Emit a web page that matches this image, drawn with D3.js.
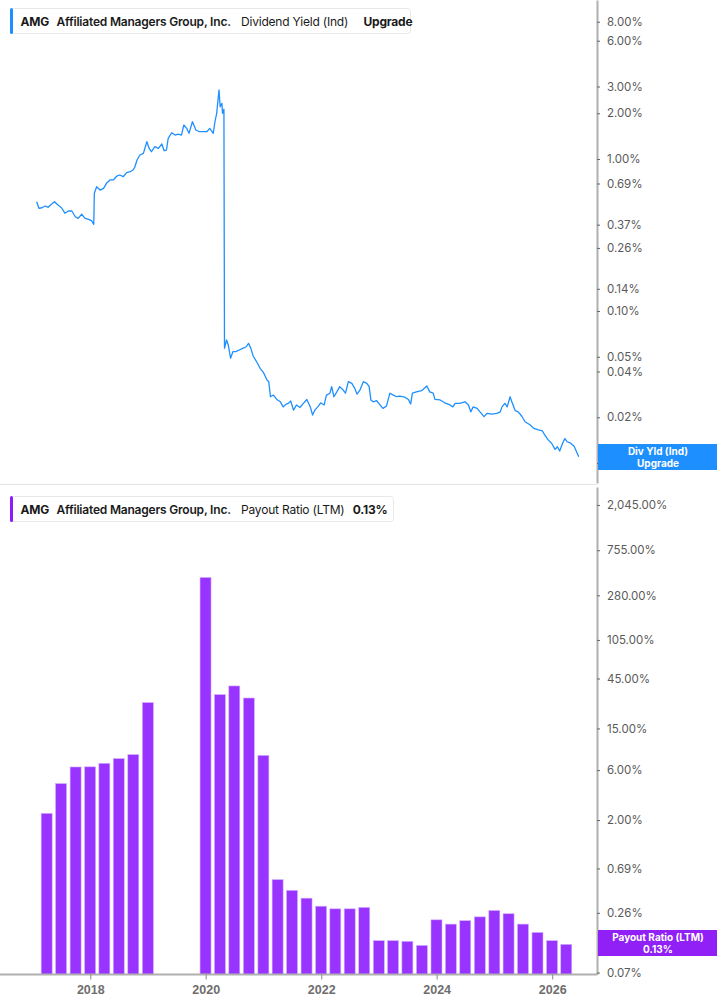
<!DOCTYPE html>
<html>
<head>
<meta charset="utf-8">
<script src="https://cdn.jsdelivr.net/npm/d3@7"></script>
<style>
  body { margin: 0; background: #fff; }
  svg { display: block; font-family: Inter, "Noto Sans", sans-serif; }
</style>
</head>
<body>
<svg id="chart" width="717" height="1005"></svg>
<script>
// ---- data ----
// dividend yield (%), decimal year -> value
const divYears = [2017.07,2017.11,2017.16,2017.22,2017.27,2017.33,2017.38,2017.44,2017.50,2017.56,2017.62,2017.68,2017.74,2017.79,2017.85,2017.91,2017.97,2018.02,2018.06,2018.07,
  2018.11,2018.17,2018.23,2018.28,2018.34,2018.40,2018.46,2018.51,2018.57,2018.63,2018.69,2018.74,2018.77,2018.81,2018.86,2018.92,2018.98,2019.02,2019.06,2019.12,
  2019.18,2019.24,2019.28,2019.32,2019.35,2019.41,2019.47,2019.52,2019.58,2019.62,2019.67,2019.71,2019.77,2019.83,2019.89,2019.96,2020.02,2020.07,2020.13,2020.16,
  2020.19,2020.23,2020.25,2020.28,2020.29,2020.315,2020.325,2020.36,2020.39,2020.43,2020.47,2020.52,2020.58,2020.64,2020.70,2020.74,2020.78,2020.82,2020.88,2020.94,
  2021.00,2021.06,2021.09,2021.12,2021.17,2021.23,2021.29,2021.34,2021.39,2021.43,2021.47,2021.52,2021.57,2021.63,2021.69,2021.75,2021.81,2021.85,2021.89,2021.95,
  2021.99,2022.05,2022.09,2022.15,2022.18,2022.22,2022.27,2022.32,2022.38,2022.42,2022.47,2022.53,2022.58,2022.62,2022.67,2022.73,2022.79,2022.83,2022.86,2022.90,
  2022.96,2023.02,2023.07,2023.13,2023.19,2023.25,2023.31,2023.36,2023.45,2023.51,2023.55,2023.58,2023.65,2023.74,2023.83,2023.88,2023.94,2023.97,2024.06,2024.14,
  2024.23,2024.28,2024.32,2024.40,2024.49,2024.55,2024.59,2024.63,2024.70,2024.75,2024.82,2024.87,2024.95,2025.04,2025.10,2025.13,2025.18,2025.22,2025.27,2025.31,
  2025.36,2025.41,2025.47,2025.53,2025.62,2025.68,2025.76,2025.83,2025.87,2025.93,2025.99,2026.05,2026.09,2026.13,2026.18,2026.22,2026.26,2026.32,2026.38,2026.42,2026.46];
const divYield = [0.524,0.474,0.478,0.491,0.481,0.506,0.524,0.498,0.478,0.440,0.455,0.455,0.417,0.407,0.433,0.407,0.401,0.393,0.372,0.595,
  0.657,0.625,0.641,0.692,0.728,0.728,0.773,0.785,0.765,0.813,0.825,0.847,0.882,0.985,1.063,1.090,1.300,1.175,1.117,1.205,
  1.175,1.255,1.134,1.146,1.368,1.489,1.438,1.460,1.438,1.673,1.592,1.476,1.759,1.552,1.512,1.512,1.512,1.592,1.476,1.759,
  1.998,2.844,2.208,2.324,2.000,2.123,0.0568,0.0645,0.0598,0.0489,0.0540,0.0540,0.0554,0.0568,0.0582,0.0613,0.0568,0.0506,0.0464,0.0420,
  0.0393,0.0352,0.0343,0.0273,0.0280,0.0262,0.0253,0.0234,0.0244,0.0247,0.0256,0.0223,0.0241,0.0232,0.0247,0.0262,0.0234,0.0207,0.0223,0.0237,
  0.0249,0.0241,0.0280,0.0288,0.0318,0.0273,0.0294,0.0318,0.0302,0.0288,0.0343,0.0334,0.0310,0.0284,0.0302,0.0343,0.0334,0.0318,0.0260,0.0253,
  0.0257,0.0241,0.0229,0.0237,0.0288,0.0280,0.0273,0.0276,0.0271,0.0262,0.0245,0.0288,0.0294,0.0299,0.0321,0.0294,0.0288,0.0262,0.0260,0.0249,
  0.0241,0.0234,0.0247,0.0247,0.0253,0.0241,0.0217,0.0234,0.0229,0.0217,0.0202,0.0212,0.0210,0.0212,0.0217,0.0234,0.0247,0.0234,0.0273,0.0247,
  0.0221,0.0217,0.0204,0.0187,0.0178,0.0169,0.0165,0.0163,0.0153,0.0142,0.0135,0.0123,0.0128,0.0120,0.0135,0.0145,0.0138,0.0135,0.0129,0.0119,0.0110];

// payout ratio (LTM, %) by quarter end
const payoutDates = ["2017-03-31","2017-06-30","2017-09-30","2017-12-31","2018-03-31","2018-06-30","2018-09-30","2018-12-31",
  "2019-12-31","2020-03-31","2020-06-30","2020-09-30","2020-12-31","2021-03-31","2021-06-30","2021-09-30","2021-12-31",
  "2022-03-31","2022-06-30","2022-09-30","2022-12-31","2023-03-31","2023-06-30","2023-09-30","2023-12-31",
  "2024-03-31","2024-06-30","2024-09-30","2024-12-31","2025-03-31","2025-06-30","2025-09-30","2025-12-31","2026-03-31"];
const payoutRatio = [2.32,4.46,6.43,6.45,6.97,7.73,8.44,26.5,
  415,31.6,38.2,29.3,8.3,0.54,0.426,0.359,0.301,
  0.284,0.284,0.293,0.141,0.141,0.139,0.127,0.223,
  0.203,0.219,0.238,0.274,0.255,0.203,0.169,0.141,0.13];

const yieldTicks = [8, 6, 3, 2, 1, 0.69, 0.37, 0.26, 0.14, 0.10, 0.05, 0.04, 0.02, 0.01];
const payoutTicks = [2045, 755, 280, 105, 45, 15, 6, 2, 0.69, 0.26, 0.07];
const yearTicks = [2018, 2020, 2022, 2024, 2026];

// ---- layout ----
const svg = d3.select("#chart");
const plotRight = 597;
const top1 = 0, bot1 = 483;
const top2 = 487, bot2 = 974.5;
const blue = "#1e8fff", purple = "#9933ff";

function yearToDate(y) {
  const yr = Math.floor(y);
  const a = Date.UTC(yr, 0, 1), b = Date.UTC(yr + 1, 0, 1);
  return new Date(a + (y - yr) * (b - a));
}

const x = d3.scaleUtc()
    .domain([new Date(Date.UTC(2018,0,1)), new Date(Date.UTC(2026,0,1))])
    .range([90.3, 552.2]);

const y1 = d3.scaleLog().domain([0.00739, 11.12]).range([bot1, top1]);
const y2 = d3.scaleLog().domain([0.067, 3034]).range([bot2, top2]);

svg.append("rect").attr("width", 717).attr("height", 1005).attr("fill", "#fff");

// panel separator
svg.append("line")
    .attr("x1", 0).attr("x2", plotRight)
    .attr("y1", 484.5).attr("y2", 484.5)
    .attr("stroke", "#e3e3e3").attr("stroke-width", 1);

// ---- top panel: dividend yield line ----
svg.append("clipPath").attr("id", "clip1")
  .append("rect").attr("x", 0).attr("y", top1).attr("width", plotRight).attr("height", bot1 - top1);

const line = d3.line()
    .x(function(d, i) { return x(yearToDate(divYears[i])); })
    .y(function(d) { return y1(d); });

svg.append("path")
    .datum(divYield)
    .attr("clip-path", "url(#clip1)")
    .attr("fill", "none")
    .attr("stroke", blue)
    .attr("stroke-width", 1.3)
    .attr("stroke-linejoin", "round")
    .attr("d", line);

// ---- bottom panel: payout ratio bars ----
const parse = d3.utcParse("%Y-%m-%d");
const barW = 11;
svg.append("g")
  .selectAll("rect")
  .data(payoutRatio)
  .enter().append("rect")
    .attr("x", function(d, i) { return x(parse(payoutDates[i])) - barW / 2; })
    .attr("y", function(d) { return y2(d); })
    .attr("width", barW)
    .attr("height", function(d) { return bot2 - y2(d); })
    .attr("fill", purple)
    .attr("stroke", "#d2b0ff")
    .attr("stroke-width", 0.6);

// ---- axes ----
function styleAxis(g) {
  g.select(".domain").attr("stroke", "#b0b0b0").attr("stroke-width", 2);
  g.selectAll(".tick line").attr("stroke", "#666");
  g.selectAll(".tick text").attr("fill", "#5a5a5a").attr("font-size", "11.5px")
    .attr("font-family", "Inter, sans-serif");
}

const fmt1 = function(d) { return d3.format(".2f")(d) + "%"; };
const fmt2 = function(d) { return d3.format(",.2f")(d) + "%"; };

const yAxis1 = svg.append("g")
    .attr("transform", "translate(" + plotRight + ",0)")
    .call(d3.axisRight(y1).tickValues(yieldTicks).tickFormat(fmt1).tickSize(3).tickPadding(7).tickSizeOuter(0));
styleAxis(yAxis1);

const yAxis2 = svg.append("g")
    .attr("transform", "translate(" + plotRight + ",0)")
    .call(d3.axisRight(y2).tickValues(payoutTicks).tickFormat(fmt2).tickSize(3).tickPadding(7).tickSizeOuter(0));
styleAxis(yAxis2);

const xAxis = svg.append("g")
    .attr("transform", "translate(0," + bot2 + ")")
    .call(d3.axisBottom(x)
      .tickValues(yearTicks.map(function(y) { return new Date(Date.UTC(y,0,1)); }))
      .tickFormat(d3.utcFormat("%Y")).tickSize(5).tickPadding(6).tickSizeOuter(0));
xAxis.select(".domain").attr("stroke", "#b0b0b0").attr("stroke-width", 2)
    .attr("d", "M0,0H" + plotRight);
xAxis.selectAll(".tick line").attr("stroke", "#888");
xAxis.selectAll(".tick text").attr("fill", "#6e6e6e").attr("font-size", "12.5px").attr("font-weight", 700);

// ---- value tags on the axis ----
function tag(yTop, color, l1, l2) {
  const g = svg.append("g");
  g.append("rect").attr("x", plotRight + 1).attr("y", yTop).attr("width", 717 - plotRight).attr("height", 26).attr("fill", color);
  g.append("text").attr("x", 658).attr("y", yTop + 10.5).attr("text-anchor", "middle")
    .attr("fill", "#fff").attr("font-size", "10px").attr("font-weight", 700).text(l1);
  g.append("text").attr("x", 658).attr("y", yTop + 22.5).attr("text-anchor", "middle")
    .attr("fill", "#fff").attr("font-size", "10px").attr("font-weight", 700).text(l2);
}
tag(444, blue, "Div Yld (Ind)", "Upgrade");
tag(930, "#9020f5", "Payout Ratio (LTM)", "0.13%");

// ---- legends ----
function legend(yTop, w, color, parts) {
  const g = svg.append("g");
  g.append("rect").attr("x", 10.5).attr("y", yTop + 0.5).attr("width", w).attr("height", 25)
    .attr("rx", 3).attr("fill", "#fff").attr("stroke", "#e8e8e8");
  g.append("rect").attr("x", 10).attr("y", yTop).attr("width", 3).attr("height", 26).attr("rx", 1.5).attr("fill", color);
  parts.forEach(function(p) {
    g.append("text").attr("x", p[0]).attr("y", yTop + 17.5)
      .attr("font-size", "12px").attr("letter-spacing", "-0.2px")
      .attr("font-weight", p[2]).attr("fill", "#1a1a1a").text(p[1]);
  });
}
legend(8, 400, blue, [[20.5, "AMG", 700], [56.5, "Affiliated Managers Group, Inc.", 600],
  [241, "Dividend Yield (Ind)", 400], [363.5, "Upgrade", 700]]);
legend(496, 383, "#8c1cff", [[20.5, "AMG", 700], [56.5, "Affiliated Managers Group, Inc.", 600],
  [241, "Payout Ratio (LTM)", 400], [352.8, "0.13%", 700]]);
</script>
</body>
</html>
